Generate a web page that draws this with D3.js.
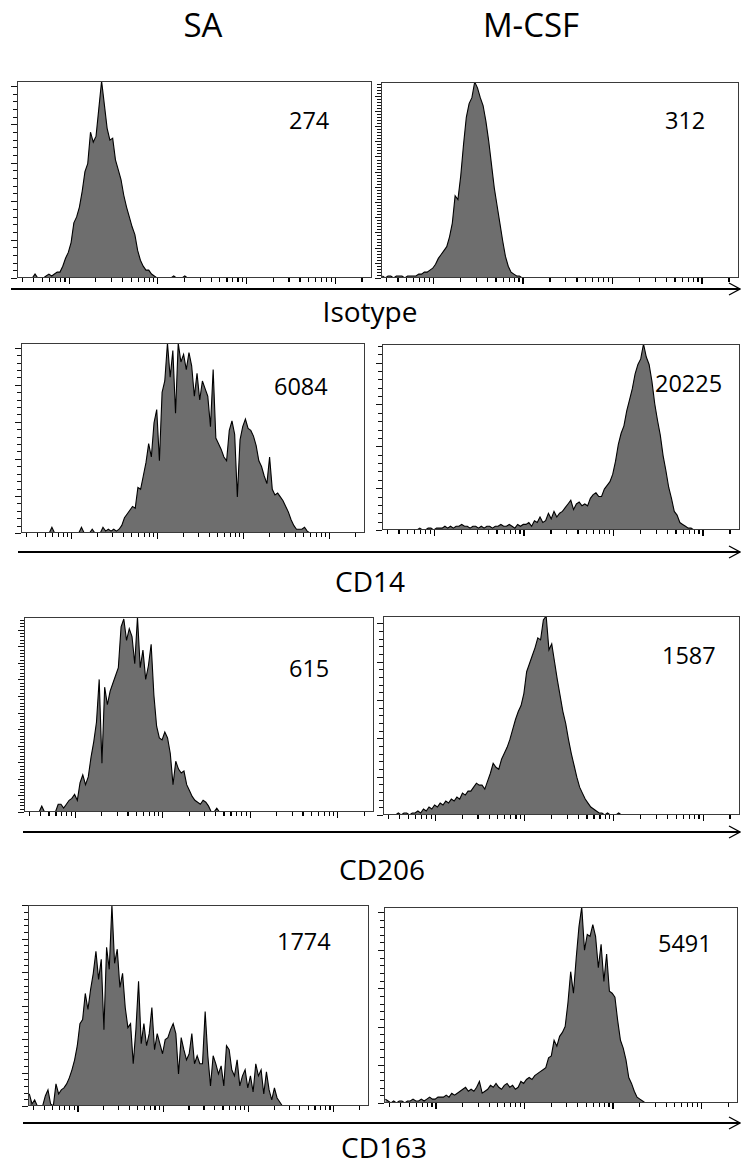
<!DOCTYPE html>
<html><head><meta charset="utf-8">
<script src="https://cdn.jsdelivr.net/npm/d3@7"></script>
<style>
body{margin:0;background:#fff}
svg{display:block}
text{font-family:"Open Sans",sans-serif;fill:#000}
.tick line{shape-rendering:crispEdges}
</style></head>
<body><svg id="c" width="741" height="1167"></svg>
<script>
// ---------------- DATA ----------------
const conditions = ["SA", "M-CSF"];
const markers = ["Isotype", "CD14", "CD206", "CD163"];
const mfiSA = [274, 6084, 615, 1774];
const mfiMCSF = [312, 20225, 1587, 5491];

// fluorescence axis (log, 4 decades) split in 128 channels
const xDomain = [26.2144, 262144];
const channelCount = 128;

// histogram heights (% of panel max) per channel, from a first channel
const sa_isotype_start = 4;
const sa_isotype = [0,0,2,0,0,0,1,2,1,2,3,3,6,10,13,18,28,31,36,44,54,58,74,69,72,86,100,88,76,70,71,60,55,50,42,36,31,26,22,14,9,6,4,4,2,1,0,0,0,0,0,0,1,0,0,0,1,0];
const mcsf_isotype_start = 0;
const mcsf_isotype = [1,0,1,1,0,1,1,1,0,1,1,1,1,2,2,3,3,4,5,7,10,12,14,16,21,28,42,40,52,68,82,89,92,100,97,92,88,80,70,58,46,37,28,19,11,6,3,2,1,1,0];
const sa_cd14_start = 10;
const sa_cd14 = [0,3,0,0,0,0,0,0,0,0, 0,0,3,0,0,0,2,0,0,0, 3,1,2,1,2,1,2,4,8,10, 12,14,13,24,23,30,37,47,40,58, 65,38,74,80,100,82,96,63,100,90, 94,86,95,88,72,84,70,80,76,72, 56,86,50,47,44,40,38,54,59,52, 19,49,56,60,55,54,51,46,38,35, 30,26,40,23,20,21,19,17,14,11, 7,4,2,2,2,3,1,0];
const mcsf_cd14_start = 12;
const mcsf_cd14 = [0,1,0,0,1,1,0,1,1,1, 2,1,2,1,2,2,3,2,2,1, 2,2,1,2,1,2,2,1,2,2, 3,2,2,3,2,1,3,2,3,3, 4,2,5,4,7,4,5,9,6,10, 7,9,10,12,14,16,11,14,15,13, 14,13,17,19,20,18,18,22,24,26, 30,37,46,52,56,64,70,76,84,89, 92,100,93,89,80,68,59,51,40,32, 23,17,10,8,4,3,2,1,1,0];
const sa_cd206_start = 5;
const sa_cd206 = [0,3,0,0,0,0,0,4,4,2, 4,6,7,9,6,15,19,14,18,28, 36,46,68,25,64,55,62,66,70,74, 95,99,88,94,90,76,100,74,83,68, 75,86,60,44,38,37,41,38,30,14, 26,22,20,21,14,11,8,6,5,4, 6,5,3,0,0,2,0];
const mcsf_cd206_start = 4;
const mcsf_cd206 = [0,1,0,1,1,0,1,1,2,1, 3,2,4,3,5,4,6,5,7,6, 8,7,9,8,11,10,12,12,14,16, 15,15,13,17,21,26,24,23,28,31, 34,38,43,48,52,55,61,72,76,80, 84,89,88,98,100,83,86,77,68,60, 52,46,38,31,25,19,14,11,8,6, 4,3,2,1,1,0,1,0,0,0,1,0];
const sa_cd163_start = 0;
const sa_cd163 = [6,1,3,0,0,0,5,8,1,0, 11,6,8,9,11,14,18,23,30,41, 43,56,48,58,66,77,63,73,38,79, 68,100,71,78,59,66,49,39,41,21, 38,62,31,41,30,36,49,28,36,31, 26,33,34,38,41,36,16,34,28,23, 26,36,21,25,21,21,47,25,10,25, 21,16,20,10,30,28,18,15,23,10, 15,18,9,15,7,21,15,18,6,17, 8,3,9,4,2,0];
const mcsf_cd163_start = 0;
const mcsf_cd163 = [2,1,0,1,0,1,1,0,1,1, 2,1,1,2,1,2,3,2,2,3, 3,3,4,3,5,4,5,6,7,8, 6,7,6,8,11,5,6,7,9,8, 10,8,7,9,10,8,9,7,8,11, 10,12,13,12,14,15,16,17,18,23, 24,32,29,34,36,39,51,67,56,74, 90,100,78,86,85,91,85,69,81,62, 76,57,56,54,42,32,28,22,13,10, 6,3,2,1,0];

// ---------------- LAYOUT ----------------
const panelBoxes = [
  [17,81,372,278],[381,82,739,278],
  [21,343,365,533],[382,344,740,530],
  [24,617,374,812],[383,616,740,815],
  [28,905,369,1106],[384,907,738,1103]];
const yTickSteps = [3.9,1.55,3.9,4.5,1.7,3.85,3.33,3.9];
const axisRows = [[11,289],[18,552],[23,832],[23,1123]];
const markerLabelPos = [[370,322],[370,592],[382,880],[384,1158]];
const mfiPos = [[289,129],[665,129],[274,395],[655,392],[289,677],[662,664],[277,950],[658,952]];
const titlePos = [[203,37],[531,37]];

const panels = [
  {h: sa_isotype, s: sa_isotype_start, mfi: mfiSA[0]},
  {h: mcsf_isotype, s: mcsf_isotype_start, mfi: mfiMCSF[0]},
  {h: sa_cd14, s: sa_cd14_start, mfi: mfiSA[1]},
  {h: mcsf_cd14, s: mcsf_cd14_start, mfi: mfiMCSF[1]},
  {h: sa_cd206, s: sa_cd206_start, mfi: mfiSA[2]},
  {h: mcsf_cd206, s: mcsf_cd206_start, mfi: mfiMCSF[2]},
  {h: sa_cd163, s: sa_cd163_start, mfi: mfiSA[3]},
  {h: mcsf_cd163, s: mcsf_cd163_start, mfi: mfiMCSF[3]}];

// ---------------- DRAW ----------------
const svg = d3.select("#c");
const lo = Math.log10(xDomain[0]), hi = Math.log10(xDomain[1]);
const chanValue = i => Math.pow(10, lo + (i + 0.5) * (hi - lo) / channelCount);

// log tick values 1..9 x decades
const tickVals = [];
for (let e = 1; e <= 5; e++) for (let m = 1; m <= 9; m++) {
  const v = m * Math.pow(10, e);
  if (v >= xDomain[0] && v <= xDomain[1]) tickVals.push(v);
}

conditions.forEach((c, i) => {
  svg.append("text").attr("x", titlePos[i][0]).attr("y", titlePos[i][1])
    .attr("text-anchor", "middle").attr("font-size", 33).text(c);
});

panels.forEach((p, k) => {
  const [x0, y0, x1, y1] = panelBoxes[k];
  const x = d3.scaleLog().domain(xDomain).range([x0, x1]);
  const y = d3.scaleLinear().domain([0, 100]).range([y1, y0]);
  const g = svg.append("g");
  const cid = "clip" + k;
  svg.append("clipPath").attr("id", cid).append("rect")
    .attr("x", x0).attr("y", y0).attr("width", x1 - x0).attr("height", y1 - y0);

  const pts = p.h.map((v, j) => ({v: chanValue(p.s + j), c: v}));
  const area = d3.area().x(d => x(d.v)).y0(y(0)).y1(d => y(d.c));
  const line = d3.line().x(d => x(d.v)).y(d => y(d.c));
  g.append("path").datum(pts).attr("clip-path", `url(#${cid})`)
    .attr("d", area).attr("fill", "#6e6e6e");
  g.append("path").datum(pts).attr("clip-path", `url(#${cid})`)
    .attr("d", line).attr("fill", "none").attr("stroke", "#000").attr("stroke-width", 1.1)
    .attr("stroke-linejoin", "miter");

  // frame
  g.append("rect").attr("x", x0 + 0.5).attr("y", y0 + 0.5)
    .attr("width", x1 - x0 - 1).attr("height", y1 - y0 - 1)
    .attr("fill", "none").attr("stroke", "#3a3a3a").attr("stroke-width", 1)
    .attr("shape-rendering", "crispEdges");

  // x ticks (below baseline)
  const xa = g.append("g").attr("transform", `translate(0,${y1})`)
    .call(d3.axisBottom(x).tickValues(tickVals).tickSize(4).tickFormat(""));
  xa.select(".domain").remove();
  xa.selectAll(".tick line").attr("stroke", "#000").attr("stroke-width", 1.2)
    .attr("y2", d => (Math.abs(Math.log10(d) - Math.round(Math.log10(d))) < 1e-9 ? 6 : 4));

  // y ticks (left, outside)
  const st = yTickSteps[k];
  const yv = d3.range(0, 100.0001, st);
  const ya = g.append("g").attr("transform", `translate(${x0},0)`)
    .call(d3.axisLeft(y).tickValues(yv).tickSize(4).tickFormat(""));
  ya.select(".domain").remove();
  ya.selectAll(".tick line").attr("stroke", "#111").attr("stroke-width", 1)
    .attr("x2", (d, j) => (j % 5 === 0 ? -6 : -4));

  // MFI label
  g.append("text").attr("x", mfiPos[k][0]).attr("y", mfiPos[k][1])
    .attr("font-size", 23.5).text(p.mfi);
});

// axis arrows + marker labels
axisRows.forEach((r, i) => {
  const [ax0, ay] = r;
  svg.append("line").attr("x1", ax0).attr("x2", 740).attr("y1", ay).attr("y2", ay)
    .attr("stroke", "#000").attr("stroke-width", 2);
  svg.append("polyline").attr("points", `729,${ay - 6} 740,${ay} 729,${ay + 6}`)
    .attr("fill", "none").attr("stroke", "#000").attr("stroke-width", 1.3);
  svg.append("text").attr("x", markerLabelPos[i][0]).attr("y", markerLabelPos[i][1])
    .attr("text-anchor", "middle").attr("font-size", 28).text(markers[i]);
});
</script></body></html>
